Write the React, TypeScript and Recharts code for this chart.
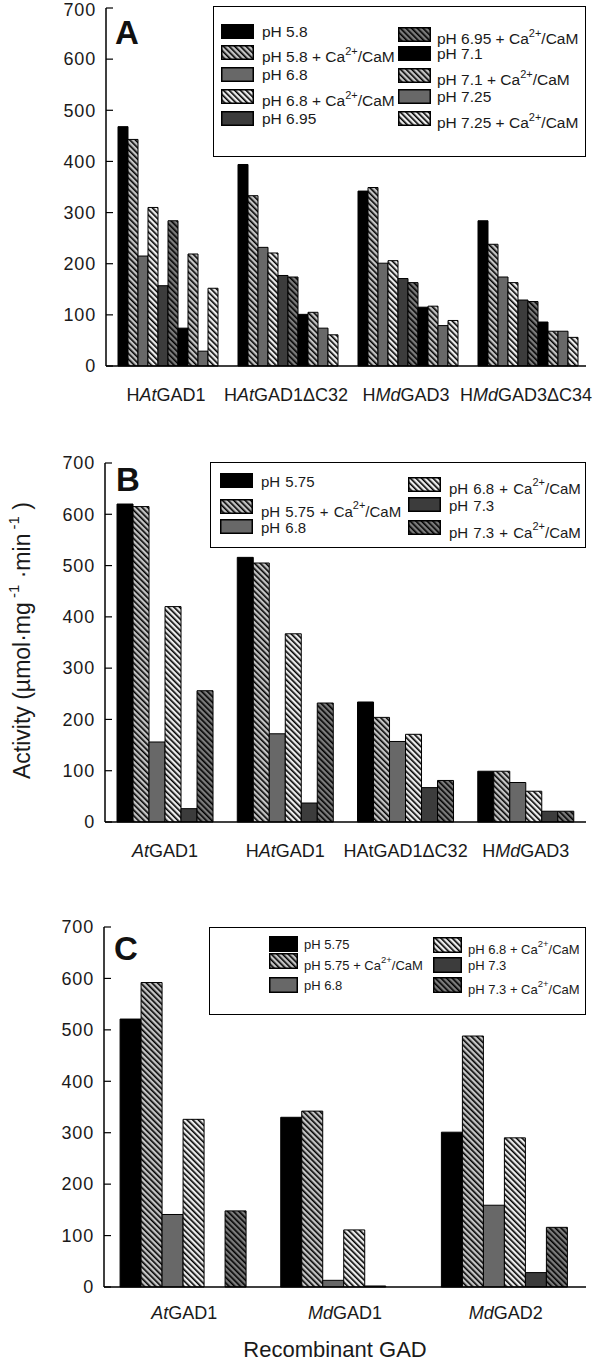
import { Bar, BarChart, XAxis, YAxis } from "recharts";

const FONT = '"Liberation Sans", Arial, Helvetica, sans-serif';

// ---- Panel A ----
const groupsA = ["HAtGAD1", "HAtGAD1ΔC32", "HMdGAD3", "HMdGAD3ΔC34"];
const italicA = ["At", "At", "Md", "Md"];
const seriesA = [
  "pH 5.8",
  "pH 5.8 + Ca2+/CaM",
  "pH 6.8",
  "pH 6.8 + Ca2+/CaM",
  "pH 6.95",
  "pH 6.95 + Ca2+/CaM",
  "pH 7.1",
  "pH 7.1 + Ca2+/CaM",
  "pH 7.25",
  "pH 7.25 + Ca2+/CaM",
];
const valuesA_HAtGAD1 = [468, 443, 215, 310, 157, 284, 74, 219, 29, 152];
const valuesA_HAtGAD1dC32 = [394, 333, 232, 221, 177, 174, 101, 105, 74, 61];
const valuesA_HMdGAD3 = [342, 349, 201, 206, 171, 163, 115, 117, 79, 89];
const valuesA_HMdGAD3dC34 = [284, 238, 174, 163, 129, 126, 86, 68, 68, 56];

// ---- Panel B ----
const groupsB = ["AtGAD1", "HAtGAD1", "HAtGAD1ΔC32", "HMdGAD3"];
const italicB = ["At", "At", "", "Md"];
const seriesB = [
  "pH 5.75",
  "pH 5.75 + Ca2+/CaM",
  "pH 6.8",
  "pH 6.8 + Ca2+/CaM",
  "pH 7.3",
  "pH 7.3 + Ca2+/CaM",
];
const valuesB_AtGAD1 = [620, 615, 156, 420, 26, 256];
const valuesB_HAtGAD1 = [516, 505, 172, 367, 37, 232];
const valuesB_HAtGAD1dC32 = [234, 204, 157, 171, 67, 81];
const valuesB_HMdGAD3 = [99, 99, 77, 60, 21, 21];

// ---- Panel C ----
const groupsC = ["AtGAD1", "MdGAD1", "MdGAD2"];
const italicC = ["At", "Md", "Md"];
const seriesC = [
  "pH 5.75",
  "pH 5.75 + Ca2+/CaM",
  "pH 6.8",
  "pH 6.8 + Ca2+/CaM",
  "pH 7.3",
  "pH 7.3 + Ca2+/CaM",
];
const valuesC_AtGAD1 = [521, 592, 141, 326, 0, 148];
const valuesC_MdGAD1 = [330, 342, 13, 111, 2, 0];
const valuesC_MdGAD2 = [301, 488, 159, 290, 28, 116];

const yTicks = [0, 100, 200, 300, 400, 500, 600, 700];

// bar looks, in series order
const STYLE_A = ["black", "hLight", "mid", "hWhite", "dark", "hDark", "black", "hLight", "mid", "hWhite"];
const STYLE_BC = ["black", "hLight", "mid", "hWhite", "dark", "hDark"];

const FILL: Record<string, string> = {
  black: "#000",
  mid: "#686868",
  dark: "#3c3c3c",
  hLight: "url(#hLight)",
  hWhite: "url(#hWhite)",
  hDark: "url(#hDark)",
};

const HATCHES = [
  { id: "hLight", bg: "#c4c4c4" },
  { id: "hWhite", bg: "#ececec" },
  { id: "hDark", bg: "#7c7c7c" },
];

function PatternDefs() {
  return (
    <svg width={0} height={0} style={{ position: "absolute" }}>
      <defs>
        {HATCHES.map((h) => (
          <pattern
            key={h.id}
            id={h.id}
            patternUnits="userSpaceOnUse"
            width={4}
            height={4}
            patternTransform="rotate(-45)"
          >
            <rect width={4} height={4} fill={h.bg} />
            <rect x={0} y={0} width={1.6} height={4} fill="#000" />
          </pattern>
        ))}
      </defs>
    </svg>
  );
}

function buildRows(groups: string[], values: number[][]) {
  return groups.map((g, gi) => {
    const row: Record<string, string | number> = { name: g };
    values[gi].forEach((v, si) => (row[`s${si}`] = v));
    return row;
  });
}

function YTick({ x, y, payload }: any) {
  // keep the top label inside the page
  const ty = Math.max(y, 10);
  return (
    <g>
      <line x1={x + 10} x2={x + 17} y1={y} y2={y} stroke="#000" strokeWidth={1.2} />
      <text
        x={x}
        y={ty}
        dy="0.35em"
        textAnchor="end"
        fontSize={18}
        letterSpacing={0.8}
        fontFamily={FONT}
        fill="#1a1a1a"
      >
        {payload.value}
      </text>
    </g>
  );
}

function XTick({ x, y, payload, groups, italics, offset }: any) {
  const label: string = payload.value;
  const it: string = italics[groups.indexOf(label)] ?? "";
  const at = it ? label.indexOf(it) : -1;
  const pre = at >= 0 ? label.slice(0, at) : label;
  const post = at >= 0 ? label.slice(at + it.length) : "";
  return (
    <text
      x={x}
      y={y + offset}
      dy="0.35em"
      textAnchor="middle"
      fontSize={18}
      fontFamily={FONT}
      fill="#1a1a1a"
    >
      {pre}
      {at >= 0 && <tspan fontStyle="italic">{it}</tspan>}
      {post}
    </text>
  );
}

function LegendName({ name, sup }: { name: string; sup: number }) {
  const parts = name.split("2+");
  if (parts.length < 2) return <>{name}</>;
  return (
    <>
      {parts[0]}
      <span style={{ fontSize: sup, position: "relative", top: -sup * 0.7 }}>2+</span>
      {parts[1]}
    </>
  );
}

type LegendLayout = {
  left: number;
  top: number;
  width: number;
  height: number;
  rows: number;
  colX: number[];
  textX: number[];
  rowTop: number[][];
  swW: number;
  swH: number;
  fontSize: number;
  supSize: number;
  wordSpacing?: number;
};

function LegendBox({ names, styles, lay }: { names: string[]; styles: string[]; lay: LegendLayout }) {
  return (
    <div
      style={{
        position: "absolute",
        left: lay.left,
        top: lay.top,
        width: lay.width,
        height: lay.height,
        border: "1.5px solid #000",
        boxSizing: "border-box",
        background: "#fff",
      }}
    >
      {names.map((n, i) => {
        const col = Math.floor(i / lay.rows);
        const row = i % lay.rows;
        const top = lay.rowTop[col][row];
        const cy = top + lay.swH / 2 + (n.includes("2+") ? 4.5 : 0.5);
        return (
          <div key={n}>
            <svg
              width={lay.swW}
              height={lay.swH}
              style={{ position: "absolute", left: lay.colX[col], top }}
            >
              <rect
                x={0.75}
                y={0.75}
                width={lay.swW - 1.5}
                height={lay.swH - 1.5}
                fill={FILL[styles[i]]}
                stroke="#000"
                strokeWidth={1.5}
              />
            </svg>
            <div
              style={{
                position: "absolute",
                left: lay.textX[col],
                top: cy - lay.fontSize / 2,
                fontSize: lay.fontSize,
                lineHeight: `${lay.fontSize}px`,
                whiteSpace: "nowrap",
                wordSpacing: lay.wordSpacing ?? 0,
                fontFamily: FONT,
                color: "#1a1a1a",
              }}
            >
              <LegendName name={n} sup={lay.supSize} />
            </div>
          </div>
        );
      })}
    </div>
  );
}

function YTitle({ viewBox }: any) {
  const cx = 22;
  const cy = viewBox.y + viewBox.height / 2 - 2;
  return (
    <text
      x={cx}
      y={cy}
      transform={`rotate(-90, ${cx}, ${cy})`}
      textAnchor="middle"
      dominantBaseline="central"
      fontSize={23}
      fontFamily={FONT}
      fill="#1a1a1a"
    >
      Activity (µmol·mg
      <tspan dy={-9} fontSize={15}> -1</tspan>
      <tspan dy={9}> ·min</tspan>
      <tspan dy={-9} fontSize={15}> -1</tspan>
      <tspan dy={9}> )</tspan>
    </text>
  );
}

function XTitle({ viewBox }: any) {
  return (
    <text
      x={viewBox.x + viewBox.width / 2 - 10}
      y={viewBox.y + 62}
      dy="0.35em"
      textAnchor="middle"
      fontSize={22}
      fontFamily={FONT}
      fill="#1a1a1a"
    >
      Recombinant GAD
    </text>
  );
}

type PanelProps = {
  top: number;
  height: number;
  plotTop: number;
  plotBottom: number;
  plotLeft: number;
  tickOffset: number;
  groups: string[];
  italics: string[];
  series: string[];
  values: number[][];
  styles: string[];
  letter: string;
  letterX: number;
  letterY: number;
  legend: LegendLayout;
  yTitle?: boolean;
  xTitle?: boolean;
};

function Panel(p: PanelProps) {
  const data = buildRows(p.groups, p.values);
  const frame = { stroke: "#000", strokeWidth: 1.5 };
  return (
    <div style={{ position: "absolute", left: 0, top: p.top, width: 600, height: p.height }}>
      <BarChart
        width={600}
        height={p.height}
        data={data}
        margin={{ top: p.plotTop, right: 14, bottom: 0, left: 0 }}
        barCategoryGap="10%"
        barGap={0}
      >
        <XAxis
          dataKey="name"
          height={p.height - p.plotBottom}
          axisLine={frame}
          tickLine={false}
          tickSize={0}
          tickMargin={0}
          interval={0}
          tick={(props: any) => (
            <XTick {...props} groups={p.groups} italics={p.italics} offset={p.tickOffset} />
          )}
          label={p.xTitle ? { content: (lp: any) => <XTitle {...lp} /> } : undefined}
        />
        <XAxis
          xAxisId="top"
          orientation="top"
          dataKey="name"
          height={0}
          tick={false}
          tickLine={false}
          axisLine={frame}
        />
        <YAxis
          width={p.plotLeft}
          domain={[0, 700]}
          ticks={yTicks}
          interval={0}
          axisLine={frame}
          tickLine={false}
          tickSize={0}
          tickMargin={10}
          tick={(props: any) => <YTick {...props} />}
          label={p.yTitle ? { content: (lp: any) => <YTitle {...lp} /> } : undefined}
        />
        <YAxis
          yAxisId="right"
          orientation="right"
          width={0}
          domain={[0, 700]}
          tick={false}
          tickLine={false}
          axisLine={frame}
        />
        {p.series.map((s, i) => (
          <Bar
            key={s}
            dataKey={`s${i}`}
            name={s}
            fill={FILL[p.styles[i]]}
            stroke="#000"
            strokeWidth={1}
            isAnimationActive={false}
          />
        ))}
      </BarChart>
      <LegendBox names={p.series} styles={p.styles} lay={p.legend} />
      <div
        style={{
          position: "absolute",
          left: p.letterX,
          top: p.letterY - 30,
          fontSize: 33,
          lineHeight: "33px",
          fontWeight: "bold",
          fontFamily: FONT,
          color: "#111",
        }}
      >
        {p.letter}
      </div>
    </div>
  );
}

export default function App() {
  return (
    <div style={{ position: "relative", width: 600, height: 1367, background: "#fff" }}>
      <style>{`body{margin:0;background:#fff}`}</style>
      <PatternDefs />
      <Panel
        top={0}
        height={420}
        plotTop={8}
        plotBottom={366}
        plotLeft={106}
        tickOffset={29}
        groups={groupsA}
        italics={italicA}
        series={seriesA}
        values={[valuesA_HAtGAD1, valuesA_HAtGAD1dC32, valuesA_HMdGAD3, valuesA_HMdGAD3dC34]}
        styles={STYLE_A}
        letter="A"
        letterX={115}
        letterY={46}
        legend={{
          left: 213,
          top: 6,
          width: 373,
          height: 151,
          rows: 5,
          colX: [7, 184],
          textX: [48, 223],
          rowTop: [
            [17, 38, 60, 82, 104],
            [20, 39, 61, 82, 104],
          ],
          swW: 33,
          swH: 15,
          fontSize: 15.5,
          supSize: 11,
        }}
      />
      <Panel
        top={440}
        height={440}
        plotTop={23}
        plotBottom={382}
        plotLeft={105}
        tickOffset={29}
        groups={groupsB}
        italics={italicB}
        series={seriesB}
        values={[valuesB_AtGAD1, valuesB_HAtGAD1, valuesB_HAtGAD1dC32, valuesB_HMdGAD3]}
        styles={STYLE_BC}
        letter="B"
        letterX={116}
        letterY={53}
        yTitle
        legend={{
          left: 210,
          top: 22,
          width: 376,
          height: 86,
          rows: 3,
          colX: [9, 197],
          textX: [50, 238],
          rowTop: [
            [10, 36, 56],
            [13.5, 34, 57],
          ],
          swW: 33,
          swH: 15,
          fontSize: 15,
          supSize: 11,
          wordSpacing: 1,
        }}
      />
      <Panel
        top={900}
        height={467}
        plotTop={27}
        plotBottom={387}
        plotLeft={104}
        tickOffset={26}
        groups={groupsC}
        italics={italicC}
        series={seriesC}
        values={[valuesC_AtGAD1, valuesC_MdGAD1, valuesC_MdGAD2]}
        styles={STYLE_BC}
        letter="C"
        letterX={114}
        letterY={62}
        xTitle
        legend={{
          left: 209,
          top: 27,
          width: 377,
          height: 88,
          rows: 3,
          colX: [59, 223],
          textX: [94, 258],
          rowTop: [
            [8, 25, 49],
            [9, 29, 49],
          ],
          swW: 29,
          swH: 16,
          fontSize: 13,
          supSize: 9.5,
        }}
      />
    </div>
  );
}
